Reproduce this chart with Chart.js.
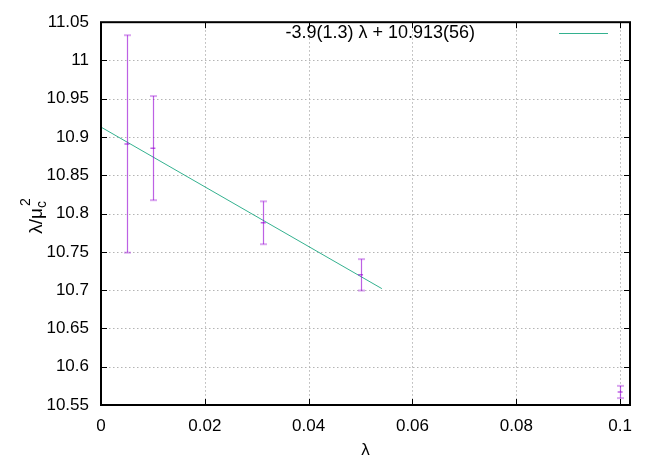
<!DOCTYPE html>
<html><head><meta charset="utf-8">
<script src="https://cdn.jsdelivr.net/npm/chart.js@4/dist/chart.umd.min.js"></script>
<style>html,body{margin:0;padding:0;background:#fff}#c{display:block}</style>
</head><body>
<canvas id="c" width="664" height="465"></canvas>
<script>
// ---- data ----
const lambdaValues = [0.005, 0.01, 0.03125, 0.05, 0.1];
const ratioValues  = [10.891, 10.8855, 10.788, 10.720, 10.567];
const ratioErrors  = [0.142, 0.068, 0.028, 0.0205, 0.008];
const fitX = [0, 0.0541];
const fitY = [10.913, 10.702];
const xTicks = [0, 0.02, 0.04, 0.06, 0.08, 0.1];
const xTickLabels = ['0', '0.02', '0.04', '0.06', '0.08', '0.1'];
const yTicks = [10.55, 10.6, 10.65, 10.7, 10.75, 10.8, 10.85, 10.9, 10.95, 11, 11.05];
const yTickLabels = ['10.55', '10.6', '10.65', '10.7', '10.75', '10.8', '10.85', '10.9', '10.95', '11', '11.05'];
const fitLabel = '-3.9(1.3) λ + 10.913(56)';
const xTitle = 'λ';

const FONT = '"Liberation Sans", Arial, sans-serif';
const PURPLE = 'rgba(148,0,211,0.62)';
const PURPLE_CAP = 'rgba(148,0,211,0.35)';
const GREEN = 'rgba(0,158,115,0.8)';

const gnuplotPlugin = {
  id: 'gnuplotStyle',
  beforeDatasetsDraw(chart) {
    const {ctx, chartArea: a, scales: {x, y}} = chart;
    ctx.save();
    ctx.strokeStyle = '#b4b4b4';
    ctx.lineWidth = 1;
    ctx.setLineDash([1.5, 2.5]);
    xTicks.forEach(v => {
      const px = Math.round(x.getPixelForValue(v)) + 0.5;
      ctx.beginPath(); ctx.moveTo(px, a.top); ctx.lineTo(px, a.bottom); ctx.stroke();
    });
    yTicks.forEach(v => {
      const py = Math.round(y.getPixelForValue(v)) + 0.5;
      ctx.beginPath(); ctx.moveTo(a.left, py); ctx.lineTo(a.right, py); ctx.stroke();
    });
    ctx.restore();
  },
  afterDatasetsDraw(chart) {
    const {ctx, chartArea: a, scales: {x, y}} = chart;
    ctx.save();
    // error bars
    lambdaValues.forEach((lv, i) => {
      const px = Math.round(x.getPixelForValue(lv)) + 0.5;
      const top = y.getPixelForValue(ratioValues[i] + ratioErrors[i]);
      const bot = y.getPixelForValue(ratioValues[i] - ratioErrors[i]);
      ctx.strokeStyle = PURPLE; ctx.lineWidth = 1.2;
      ctx.beginPath(); ctx.moveTo(px, top); ctx.lineTo(px, bot); ctx.stroke();
      ctx.strokeStyle = PURPLE_CAP; ctx.lineWidth = 2;
      [top, bot].forEach(py => {
        ctx.beginPath(); ctx.moveTo(px - 3.5, py); ctx.lineTo(px + 3.5, py); ctx.stroke();
      });
    });
    // border
    ctx.strokeStyle = '#000'; ctx.lineWidth = 2;
    ctx.strokeRect(a.left, a.top, a.right - a.left, a.bottom - a.top);
    // inward tick marks (mirrored)
    ctx.lineWidth = 1;
    xTicks.forEach(v => {
      const px = Math.round(x.getPixelForValue(v)) + 0.5;
      ctx.beginPath(); ctx.moveTo(px, a.bottom); ctx.lineTo(px, a.bottom - 6); ctx.stroke();
      ctx.beginPath(); ctx.moveTo(px, a.top); ctx.lineTo(px, a.top + 6); ctx.stroke();
    });
    yTicks.forEach(v => {
      const py = Math.round(y.getPixelForValue(v)) + 0.5;
      ctx.beginPath(); ctx.moveTo(a.left, py); ctx.lineTo(a.left + 6, py); ctx.stroke();
      ctx.beginPath(); ctx.moveTo(a.right, py); ctx.lineTo(a.right - 6, py); ctx.stroke();
    });
    // key
    ctx.fillStyle = '#000';
    ctx.font = '18px ' + FONT;
    ctx.textAlign = 'right'; ctx.textBaseline = 'middle';
    ctx.fillText(fitLabel, 475, 33);
    ctx.strokeStyle = GREEN; ctx.lineWidth = 1;
    ctx.beginPath(); ctx.moveTo(559, 33.5); ctx.lineTo(608, 33.5); ctx.stroke();
    // x title
    ctx.font = '17px ' + FONT;
    ctx.textAlign = 'center'; ctx.textBaseline = 'middle';
    ctx.fillText(xTitle, (a.left + a.right) / 2, 450);
    // y title: λ/μ_c^2 rotated
    ctx.translate(42, 216);
    ctx.rotate(-Math.PI / 2);
    ctx.textAlign = 'left'; ctx.textBaseline = 'alphabetic';
    const main = 'λ/μ';
    ctx.font = '19px ' + FONT;
    const mw = ctx.measureText(main).width;
    ctx.font = '14px ' + FONT;
    const sw = Math.max(ctx.measureText('c').width, ctx.measureText('2').width);
    const total = mw + sw + 2;
    const sx = -total / 2;
    ctx.font = '19px ' + FONT;
    ctx.fillText(main, sx, 0);
    ctx.font = '14px ' + FONT;
    ctx.fillText('c', sx + mw, 4);
    ctx.fillText('2', sx + mw + 2, -12);
    ctx.restore();
  }
};

new Chart(document.getElementById('c'), {
  type: 'scatter',
  data: {
    datasets: [
      {
        label: 'data',
        data: lambdaValues.map((v, i) => ({x: v, y: ratioValues[i]})),
        showLine: false,
        pointStyle: 'line',
        pointRadius: 2.5,
        borderColor: PURPLE,
        backgroundColor: PURPLE,
        borderWidth: 1.5
      },
      {
        label: fitLabel,
        data: fitX.map((v, i) => ({x: v, y: fitY[i]})),
        showLine: true,
        pointRadius: 0,
        borderColor: GREEN,
        borderWidth: 1,
        fill: false
      }
    ]
  },
  options: {
    responsive: false,
    animation: false,
    devicePixelRatio: 1,
    layout: {padding: {top: 18, right: 34, left: 0, bottom: 0}},
    plugins: {legend: {display: false}, tooltip: {enabled: false}},
    scales: {
      x: {
        type: 'linear', min: 0, max: 0.1019,
        afterBuildTicks: s => { s.ticks = xTicks.map(v => ({value: v})); },
        afterFit: s => { s.height = 60; },
        grid: {display: false, drawTicks: false},
        border: {display: false},
        ticks: {
          autoSkip: false, maxRotation: 0, padding: 11, color: '#000',
          font: {family: FONT, size: 17},
          callback: (v, i) => xTickLabels[i]
        }
      },
      y: {
        type: 'linear', min: 10.55, max: 11.05,
        afterBuildTicks: s => { s.ticks = yTicks.map(v => ({value: v})); },
        afterFit: s => { s.width = 101; },
        grid: {display: false, drawTicks: false},
        border: {display: false},
        ticks: {
          autoSkip: false, padding: 12, color: '#000',
          font: {family: FONT, size: 17},
          callback: (v, i) => yTickLabels[i]
        }
      }
    }
  },
  plugins: [gnuplotPlugin]
});
</script>
</body></html>
